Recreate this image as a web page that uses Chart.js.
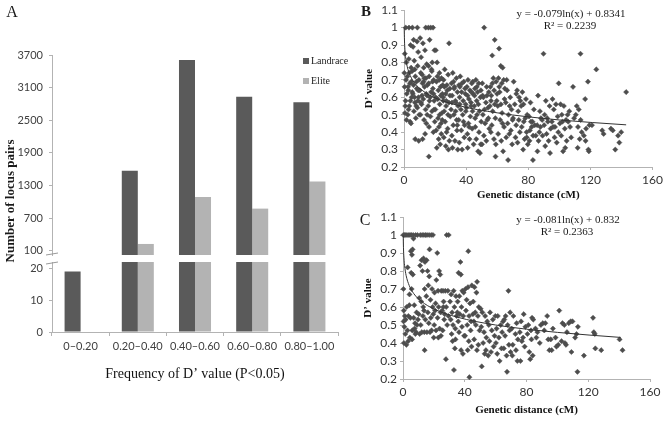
<!DOCTYPE html>
<html>
<head>
<meta charset="utf-8">
<title>D' value distribution and decay</title>
<script src="https://cdn.jsdelivr.net/npm/chart.js@4.4.1/dist/chart.umd.min.js"></script>
<style>
  body { margin: 0; background: #fff; }
  #figure { position: relative; width: 666px; height: 422px; overflow: hidden; background: #fff; }
  #figure canvas { position: absolute; left: 0; top: 0; }
  .label { position: absolute; font-family: "Liberation Serif", "Times New Roman", serif; color: #1a1a1a;
           white-space: nowrap; line-height: 1; transform: translate(-50%, -50%); }
</style>
</head>
<body>
<div id="figure">
  <canvas id="countsUpper" width="666" height="422"></canvas>
  <canvas id="countsLower" width="666" height="422"></canvas>
  <canvas id="panelB" width="666" height="422"></canvas>
  <canvas id="panelC" width="666" height="422"></canvas>
  <div class="label" style="left:12px;top:12px;font-size:16px;">A</div>
  <div class="label" style="left:9px;top:201px;font-size:13px;font-weight:bold;transform:translate(-50%,-50%) rotate(-90deg);">Number of locus pairs</div>
  <div class="label" style="left:366px;top:11px;font-size:15px;font-weight:bold;">B</div>
  <div class="label" style="left:365px;top:220px;font-size:16px;">C</div>
  <div class="label" style="left:571px;top:13px;font-size:11px;">y = -0.079ln(x) + 0.8341</div>
  <div class="label" style="left:570px;top:25px;font-size:11px;">R² = 0.2239</div>
  <div class="label" style="left:568px;top:219px;font-size:11px;">y = -0.081ln(x) + 0.832</div>
  <div class="label" style="left:567px;top:231px;font-size:11px;">R² = 0.2363</div>
</div>
<script>
// ---- data ----
const categories = ['0–0.20', '0.20–0.40', '0.40–0.60', '0.60–0.80', '0.80–1.00'];
const landrace = [19, 1570, 3610, 2930, 2830];
const elite = [0, 225, 1090, 875, 1375];
const upperTicks = [100, 700, 1300, 1900, 2500, 3100, 3700];
const lowerTicks = [0, 10, 20];
const distanceTicks = [0, 40, 80, 120, 160];
const dValueTicks = [0.2, 0.3, 0.4, 0.5, 0.6, 0.7, 0.8, 0.9, 1, 1.1];

// panel B: genetic distance (cM) vs D'
const pointsB = [
  [1.1,1],[0.5,0.85],[1.5,0.8],[0.2,0.74],[0.4,0.66],[1.8,0.62],[1,0.58],[0.6,0.51],[1.6,0.47],[1.3,0.7],[0.8,0.55],
  [3.2,1],[4.2,0.9],[3.1,0.82],[4.6,0.77],[2.2,0.72],[3.8,0.68],[2.8,0.64],[4.9,0.6],[3.4,0.55],[2.4,0.5],[3.9,0.46],[4.5,0.45],[2.6,0.66],[4.1,0.58],[3.3,0.74],
  [5.4,1],[8.6,1],[6.2,0.93],[8.4,0.92],[5.8,0.89],[9.1,0.86],[6.6,0.81],[8.8,0.78],[5.2,0.75],[7.3,0.72],[9.6,0.7],[6.1,0.67],[8.2,0.65],[5.7,0.62],[9.3,0.6],[7,0.57],[8.6,0.54],[6.4,0.52],[9.8,0.5],[7.6,0.48],[7.2,0.36],[9.5,0.35],[5.3,0.63],[8,0.69],[6.9,0.76],[9,0.58],
  [14,1],[10.4,0.94],[12.2,0.91],[13.5,0.87],[11,0.83],[14.6,0.79],[12.7,0.77],[10.8,0.74],[14.1,0.71],[11.9,0.68],[13.2,0.66],[10.2,0.64],[14.8,0.61],[12.4,0.59],[11.3,0.56],[13.9,0.53],[10.6,0.5],[12.9,0.47],[14.4,0.45],[13.6,0.39],[12,0.36],[11.7,0.73],[14.3,0.62],[10.9,0.57],[12.6,0.69],
  [15.7,1],[17.2,1],[18.7,1],[16.5,0.93],[19.6,0.87],[18.2,0.8],[15.8,0.78],[17.7,0.76],[16.2,0.72],[19.1,0.7],[15.1,0.67],[18.6,0.65],[17.4,0.63],[16.8,0.6],[19.4,0.58],[15.6,0.55],[18,0.52],[17,0.49],[19.8,0.46],[16.1,0.43],[16,0.26],[18.9,0.4],[15.9,0.68],[17.9,0.75],[19,0.62],
  [20.5,0.87],[21.3,0.8],[22.8,0.74],[24.1,0.71],[20.9,0.69],[23.5,0.66],[22.1,0.64],[24.7,0.62],[21.7,0.59],[23,0.56],[20.2,0.53],[24.4,0.51],[21.9,0.48],[23.8,0.45],[22.5,0.43],[20.7,0.41],[24,0.39],[22.3,0.36],[23.3,0.33],[21.1,0.31],[24.9,0.67],[20.4,0.6],[22.7,0.7],
  [29,0.91],[26.2,0.76],[28.4,0.73],[25.5,0.7],[27.6,0.67],[29.5,0.65],[26.8,0.62],[25.2,0.6],[28.9,0.57],[27.1,0.55],[25.9,0.52],[29.8,0.49],[26.5,0.46],[28.1,0.42],[27.4,0.4],[25.6,0.37],[29.2,0.35],[26.9,0.32],[28.6,0.3],[27.9,0.64],[25.3,0.58],
  [31.4,0.74],[33.7,0.71],[30.6,0.68],[32.5,0.66],[34.4,0.63],[31,0.61],[33.1,0.58],[34.8,0.55],[30.3,0.53],[32.1,0.5],[33.9,0.47],[31.7,0.44],[34.1,0.41],[30.8,0.38],[32.8,0.35],[31.2,0.31],[34.6,0.3],[32.3,0.65],[33.4,0.57],
  [36.2,0.72],[38.5,0.69],[35.4,0.67],[39.3,0.65],[37.1,0.63],[35.8,0.6],[38.1,0.58],[39.7,0.56],[36.6,0.53],[37.8,0.5],[35.2,0.47],[39,0.44],[36.9,0.41],[38.8,0.37],[35.6,0.34],[37.4,0.3],[39.5,0.62],[36,0.66],
  [41.2,0.7],[43.6,0.68],[40.5,0.66],[42.4,0.64],[44.5,0.62],[41.8,0.59],[43.1,0.57],[40.2,0.54],[44.1,0.52],[42.7,0.49],[41.5,0.45],[43.9,0.42],[40.8,0.39],[42.2,0.36],[44.8,0.33],[41,0.31],[43.4,0.63],
  [46.3,0.7],[48.1,0.68],[45.6,0.65],[47.4,0.63],[49.2,0.6],[46.8,0.58],[45.2,0.55],[48.6,0.52],[47,0.5],[49.7,0.46],[45.9,0.43],[48.3,0.4],[46.5,0.36],[49.4,0.33],[47.7,0.29],[48.9,0.28],[45.4,0.61],
  [51.6,1],[50.4,0.68],[53.2,0.66],[54.6,0.63],[51.1,0.6],[52.7,0.57],[54.1,0.54],[50.8,0.5],[53.6,0.47],[52.2,0.45],[54.9,0.42],[51.4,0.38],[53,0.35],[50.2,0.33],
  [58.4,0.93],[56.8,0.84],[57.5,0.71],[59.3,0.69],[55.6,0.66],[58,0.64],[56.2,0.61],[59.7,0.58],[55.3,0.55],[57.1,0.52],[58.8,0.48],[56.5,0.44],[55.9,0.4],[57.9,0.36],[59.1,0.33],[58.9,0.26],
  [61.2,0.88],[62.3,0.78],[63.5,0.77],[60.8,0.71],[64.2,0.7],[62.9,0.68],[61.6,0.63],[64.7,0.59],[60.4,0.55],[63.1,0.51],[61.9,0.47],[64.4,0.43],[60.6,0.39],[62.6,0.35],[63.8,0.29],
  [66.1,0.7],[68.4,0.6],[65.5,0.57],[69.2,0.53],[67.3,0.5],[66.7,0.45],[68.8,0.41],[65.8,0.37],[69.6,0.33],[67,0.24],[68,0.55],
  [70.6,0.69],[72.8,0.64],[74.1,0.6],[71.3,0.56],[73.5,0.52],[70.2,0.48],[72.2,0.44],[74.6,0.4],[71.8,0.37],[73.1,0.34],[74.9,0.58],
  [76.2,0.63],[78.5,0.59],[75.4,0.55],[79.3,0.5],[77.1,0.46],[75.8,0.43],[78.9,0.4],[77.6,0.36],[79.7,0.33],[76.7,0.3],[78.1,0.48],
  [81.4,0.57],[83.6,0.53],[80.5,0.49],[82.7,0.46],[84.2,0.44],[81,0.41],[83.1,0.38],[80.8,0.35],[83,0.24],[82.2,0.43],
  [86.3,0.61],[89.8,0.85],[87.5,0.52],[88.9,0.47],[85.7,0.44],[87.1,0.4],[89.2,0.38],[86.6,0.35],[85.9,0.29],[88.2,0.48],
  [91.3,0.58],[93.7,0.55],[90.5,0.5],[92.6,0.46],[94.4,0.42],[91.8,0.39],[93.1,0.35],[90.9,0.32],[94,0.28],[92.2,0.48],
  [95.6,0.59],[97.8,0.56],[96.4,0.53],[98.9,0.49],[95.2,0.46],[97.2,0.43],[99.3,0.4],[96.9,0.37],[98.3,0.34],[99.6,0.68],
  [100.8,0.56],[102.9,0.55],[101.6,0.5],[104.3,0.47],[100.3,0.45],[103.5,0.42],[101.2,0.38],[104.7,0.35],[102.4,0.29],[103.8,0.31],
  [108.8,0.66],[106.4,0.52],[109.5,0.48],[105.7,0.46],[107.6,0.37],[105.3,0.5],
  [111.2,0.55],[112.5,0.53],[110.6,0.5],[113.7,0.47],[112,0.43],[114.4,0.4],[113.1,0.36],[111.8,0.31],[113.6,0.85],
  [118.4,0.69],[116.6,0.59],[119.3,0.44],[117.2,0.42],[115.8,0.38],[116.9,0.35],[118.7,0.3],[119,0.29],
  [123.8,0.76],[121,0.44],[127.6,0.41],[128.5,0.39],[133.2,0.42],[134.4,0.41],[136,0.3],[137.8,0.38],[138.6,0.34],[139.8,0.4],[143,0.63],
  [2.9,0.53],[4.7,0.69],[6.8,0.6],[7.9,0.55],[9.2,0.64],[11.6,0.61],[13,0.71],[14.9,0.5],[16.4,0.58],[18.4,0.69],[19.3,0.53],
  [21.5,0.72],[22.9,0.5],[23.7,0.61],[24.6,0.47],[26,0.66],[27.2,0.58],[28.3,0.5],[29.6,0.61],[30.9,0.57],[31.9,0.69],[33.2,0.52],
  [34.3,0.44],[35.9,0.56],[37.3,0.68],[38.3,0.46],[39.8,0.52],[40.9,0.61],[41.9,0.43],[43.2,0.55],[44.3,0.69],[45.8,0.48],[46.9,0.66],
  [47.9,0.56],[49.5,0.64],[50.6,0.61],[51.8,0.53],[53.4,0.61],[54.3,0.48],[56,0.58],[56.9,0.68],[58.4,0.56],[59.9,0.62],[61.3,0.66],
  [62.4,0.56],[63.4,0.45],[64.9,0.65],[66.4,0.64],[67.8,0.39],[69.9,0.47],[72.3,0.62],[73.9,0.47],[76.9,0.56],[79,0.37],[81.7,0.46],
  [84.8,0.38],[87.8,0.43],[90.2,0.44],[95.9,0.43],[102,0.46],[106.9,0.43]
];
const trendB = [[0.12,1],[0.3,0.929],[0.6,0.874],[1,0.834],[2,0.779],[4,0.725],[7,0.68],[12,0.638],[20,0.597],[35,0.553],[60,0.511],[100,0.47],[143,0.442]];

// panel C
const pointsC = [
  [0.2,1],[1,1],[1.8,1],[0.3,0.7],[0.5,0.58],[1.2,0.55],[0.4,0.52],[1.5,0.45],[0.6,0.4],[1.7,0.53],[0.9,0.49],
  [2.6,1],[3.8,1],[4.6,1],[3,0.82],[4.2,0.67],[2.4,0.6],[3.5,0.55],[4.8,0.54],[2.9,0.47],[4.4,0.43],[3.3,0.41],[2.2,0.39],[4.1,0.61],
  [5.5,1],[6.6,1],[8.2,1],[9.4,1],[5.1,0.91],[6.2,0.92],[6.8,0.98],[5.8,0.89],[5.3,0.79],[6.4,0.78],[5.6,0.7],[7.3,0.61],[8.8,0.57],[6.9,0.54],[7.8,0.51],[9.1,0.5],[6,0.47],[8.5,0.46],[7.5,0.48],[9.7,0.53],[5.9,0.42],[8,0.45],
  [11.2,1],[12.4,1],[13.5,1],[14.6,1],[12,0.86],[13.3,0.87],[14.2,0.85],[11.1,0.83],[12.6,0.8],[14,0.7],[10.5,0.65],[11.8,0.63],[13.1,0.6],[10.2,0.56],[12.9,0.55],[14.5,0.53],[11.5,0.5],[13.8,0.46],[10.8,0.45],[12.2,0.46],[14,0.36],[13.6,0.58],
  [15.6,1],[16.9,1],[18.3,1],[19.4,1],[17.2,0.92],[15.3,0.86],[15.9,0.8],[17,0.77],[16.4,0.72],[18.8,0.7],[15.1,0.66],[17.8,0.64],[19.2,0.6],[16.1,0.57],[18,0.54],[19.6,0.56],[16.7,0.51],[18.5,0.47],[15.5,0.46],[17.5,0.46],[19.9,0.43],
  [22.2,0.9],[23.4,0.8],[24.1,0.78],[21.6,0.75],[20.4,0.68],[22.7,0.69],[24.8,0.69],[21.1,0.62],[23.1,0.6],[20.8,0.58],[24.4,0.57],[22.4,0.54],[20.2,0.5],[23.7,0.48],[21.4,0.47],[24.6,0.44],[22.9,0.43],
  [28.3,1],[29.6,1],[25.9,0.69],[27.4,0.69],[29.1,0.69],[26.3,0.63],[28,0.6],[25.4,0.58],[27,0.56],[29.4,0.55],[26.7,0.53],[28.6,0.5],[25.7,0.47],[27.8,0.31],[26.1,0.6],
  [32.8,0.69],[31.2,0.67],[34.3,0.66],[30.5,0.63],[33.3,0.6],[31.8,0.57],[34.7,0.55],[30.9,0.53],[32.4,0.5],[33.9,0.48],[31.5,0.45],[34,0.42],[32.1,0.41],[33.6,0.37],[33,0.25],
  [37.2,0.85],[36,0.79],[37.5,0.78],[38.4,0.69],[36.5,0.66],[39.3,0.68],[35.4,0.63],[37.9,0.6],[36.8,0.56],[39,0.55],[35.8,0.52],[38.2,0.49],[36.3,0.46],[39.6,0.44],[37.6,0.36],[38.8,0.34],[35.2,0.57],
  [42.3,0.91],[40.4,0.7],[42.1,0.71],[44.6,0.72],[41.2,0.64],[43.4,0.62],[40.8,0.58],[42.8,0.55],[44.1,0.52],[41.6,0.5],[43.8,0.47],[40.2,0.44],[42.6,0.41],[44.4,0.38],[43,0.21],[41.9,0.36],
  [48,0.74],[46.3,0.71],[47.6,0.68],[45.5,0.63],[49.1,0.6],[46.8,0.57],[48.5,0.55],[45.9,0.52],[47.2,0.5],[49.6,0.47],[46.1,0.42],[48.8,0.39],[47.9,0.36],[45.3,0.56],
  [51.4,0.57],[53.2,0.55],[54.6,0.52],[50.7,0.49],[52.5,0.46],[54,0.43],[51.9,0.4],[53.7,0.36],[51,0.27],[52.9,0.34],[50.3,0.59],
  [56.4,0.57],[58.2,0.53],[55.6,0.5],[57.5,0.47],[59.3,0.44],[56,0.41],[58.7,0.38],[57,0.35],[55.2,0.33],[59.8,0.55],
  [61.4,0.55],[63.3,0.5],[60.6,0.48],[64.2,0.46],[62.1,0.43],[60.2,0.4],[63.8,0.37],[62.6,0.3],[61,0.34],[64.8,0.52],
  [68.3,0.69],[66.5,0.55],[69.4,0.57],[65.6,0.53],[67.8,0.5],[69,0.47],[66.1,0.44],[68.6,0.39],[65.3,0.37],[67.1,0.33],[67.4,0.24],[69.7,0.35],
  [71.5,0.55],[73.6,0.51],[70.4,0.48],[72.8,0.45],[74.4,0.42],[71.1,0.39],[73.2,0.36],[74.1,0.3],[70.8,0.33],
  [78.2,0.56],[76.5,0.52],[79.3,0.49],[75.7,0.46],[77.8,0.43],[76.1,0.3],[78.8,0.38],[77,0.41],
  [83.6,0.54],[84.4,0.53],[81.2,0.5],[82.9,0.47],[80.6,0.45],[83.2,0.42],[81.8,0.35],[82.4,0.31],[84,0.33],
  [87.1,0.46],[89.3,0.5],[86.4,0.43],[88.6,0.4],[85.8,0.48],
  [93.4,0.55],[90.6,0.51],[92.2,0.51],[94.1,0.42],[91.5,0.47],[94.8,0.36],
  [97.1,0.48],[95.7,0.42],[98.8,0.43],[96.3,0.36],[99.4,0.38],
  [101.2,0.58],[103.3,0.51],[104.5,0.5],[100.6,0.39],[102.7,0.41],[104.9,0.4],
  [107.4,0.51],[108.6,0.52],[109.8,0.52],[106.2,0.46],[109.1,0.35],[105.6,0.39],
  [113.3,0.49],[111.5,0.43],[113,0.24],[112.4,0.45],
  [117.2,0.33],[123.1,0.54],[123.6,0.46],[124.2,0.45],[124.6,0.37],[128.4,0.36],[140.3,0.42],[142.2,0.36]
];
const trendC = [[0.13,0.997],[0.3,0.93],[0.6,0.873],[1,0.832],[2,0.776],[4,0.72],[7,0.674],[12,0.631],[20,0.589],[35,0.544],[60,0.5],[100,0.459],[141,0.431]];

// ---- layout ----
const W = 666, H = 422;
const AXIS = '#b3b3b3';
const SERIF = '"Liberation Serif", "Times New Roman", serif';

Chart.defaults.font.family = 'Lato, "Liberation Sans", sans-serif';
Chart.defaults.color = '#404040';
Chart.defaults.animation = false;
Chart.defaults.events = [];
Chart.defaults.plugins.legend.display = false;
Chart.defaults.plugins.tooltip.enabled = false;

// padding that puts the plot area exactly at `area` on the full-size canvas
function frame(area, yWidth, xHeight) {
    return {
        left: area.left - yWidth,
        top: area.top,
        right: W - area.right,
        bottom: H - area.bottom - xHeight
    };
}

const fixedTicks = list => scale => { scale.ticks = list.map(v => ({ value: v })); };

// legend drawn over the plot, top right (panel A)
const cornerLegend = {
    id: 'cornerLegend',
    afterDraw(chart, args, opts) {
        if (!opts.show) return;
        const ctx = chart.ctx;
        ctx.save();
        ctx.font = opts.font;
        ctx.textBaseline = 'middle';
        chart.data.datasets.forEach((ds, i) => {
            const y = opts.y + i * opts.gap;
            ctx.fillStyle = ds.backgroundColor;
            ctx.fillRect(opts.x, y - 3, 6, 6);
            ctx.fillStyle = '#222';
            ctx.fillText(ds.label, opts.x + 8, y);
        });
        ctx.restore();
    }
};

// little marks where the value axis is broken
const axisBreak = {
    id: 'axisBreak',
    afterDraw(chart, args, opts) {
        const { ctx, chartArea } = chart;
        const y = opts.edge === 'bottom' ? chartArea.bottom - 1 : chartArea.top + 1;
        ctx.save();
        ctx.strokeStyle = '#999';
        ctx.lineWidth = 1;
        ctx.beginPath();
        ctx.moveTo(chartArea.left - 6, y + 1);
        ctx.lineTo(chartArea.left + 6, y - 1);
        ctx.stroke();
        ctx.restore();
    }
};

function countChart(id, area, yMin, yMax, ticks, showX, breakEdge) {
    const xHeight = showX ? 51 : 0;
    return new Chart(document.getElementById(id), {
        type: 'bar',
        data: {
            labels: categories,
            datasets: [
                { label: 'Landrace', data: landrace, backgroundColor: '#5a5a5a', categoryPercentage: 0.56, barPercentage: 1, clip: 0 },
                { label: 'Elite', data: elite, backgroundColor: '#b3b3b3', categoryPercentage: 0.56, barPercentage: 1, clip: 0 }
            ]
        },
        options: {
            responsive: false,
            layout: { padding: frame(area, 52, xHeight) },
            scales: {
                x: {
                    display: showX,
                    afterFit: s => { s.height = xHeight; },
                    grid: { drawOnChartArea: false, tickLength: 4, color: AXIS },
                    border: { color: AXIS },
                    ticks: { padding: 4, font: { size: 11 }, color: '#404040' },
                    title: {
                        display: true,
                        text: 'Frequency of D’ value (P<0.05)',
                        font: { family: SERIF, size: 14 },
                        color: '#111',
                        padding: 0
                    }
                },
                y: {
                    min: yMin,
                    max: yMax,
                    afterBuildTicks: fixedTicks(ticks),
                    afterFit: s => { s.width = 52; },
                    grid: { drawOnChartArea: false, tickLength: 3, color: AXIS },
                    border: { color: AXIS },
                    ticks: { padding: 6, font: { size: 11 }, color: '#404040', callback: v => String(v) }
                }
            },
            plugins: {
                cornerLegend: { show: !showX, x: 303, y: 61, gap: 20, font: '10px ' + SERIF },
                axisBreak: { edge: breakEdge }
            }
        },
        plugins: [cornerLegend, axisBreak]
    });
}

function ldChart(id, area, points, trend, xHeight) {
    return new Chart(document.getElementById(id), {
        type: 'scatter',
        data: {
            datasets: [
                {
                    data: trend.map(([x, y]) => ({ x, y })),
                    showLine: true,
                    borderColor: '#333',
                    borderWidth: 1,
                    pointRadius: 0,
                    cubicInterpolationMode: 'monotone',
                    clip: false
                },
                {
                    data: points.map(([x, y]) => ({ x, y })),
                    pointStyle: 'rectRot',
                    pointRadius: 2.6,
                    pointBackgroundColor: '#4d4d4d',
                    pointBorderColor: '#4d4d4d',
                    pointBorderWidth: 0.5,
                    clip: false
                }
            ]
        },
        options: {
            responsive: false,
            layout: { padding: frame(area, 41, xHeight) },
            scales: {
                x: {
                    type: 'linear',
                    min: 0,
                    max: 160,
                    afterBuildTicks: fixedTicks(distanceTicks),
                    afterFit: s => { s.height = xHeight; },
                    grid: { drawOnChartArea: false, tickLength: 3, color: AXIS },
                    border: { color: AXIS },
                    ticks: { padding: 3, font: { size: 12 }, color: '#333' },
                    title: {
                        display: true,
                        text: 'Genetic distance (cM)',
                        font: { family: SERIF, size: 11, weight: 'bold' },
                        color: '#111',
                        padding: 0
                    }
                },
                y: {
                    min: 0.2,
                    max: 1.1,
                    afterBuildTicks: fixedTicks(dValueTicks),
                    afterFit: s => { s.width = 41; },
                    grid: { drawOnChartArea: false, tickLength: 3, color: AXIS },
                    border: { color: AXIS },
                    ticks: { padding: 3, font: { size: 12 }, color: '#333', callback: v => String(v) },
                    title: {
                        display: true,
                        text: 'D’ value',
                        font: { family: SERIF, size: 11, weight: 'bold' },
                        color: '#111',
                        padding: 0
                    }
                }
            }
        }
    });
}

countChart('countsUpper', { left: 52, right: 338, top: 55, bottom: 255 }, 22, 3700, upperTicks, false, 'bottom');
countChart('countsLower', { left: 52, right: 338, top: 262, bottom: 332 }, 0, 22, lowerTicks, true, 'top');
ldChart('panelB', { left: 404, right: 653, top: 7, bottom: 167 }, pointsB, trendB, 35);
ldChart('panelC', { left: 403, right: 650, top: 217, bottom: 379 }, pointsC, trendC, 38);
</script>
</body>
</html>
